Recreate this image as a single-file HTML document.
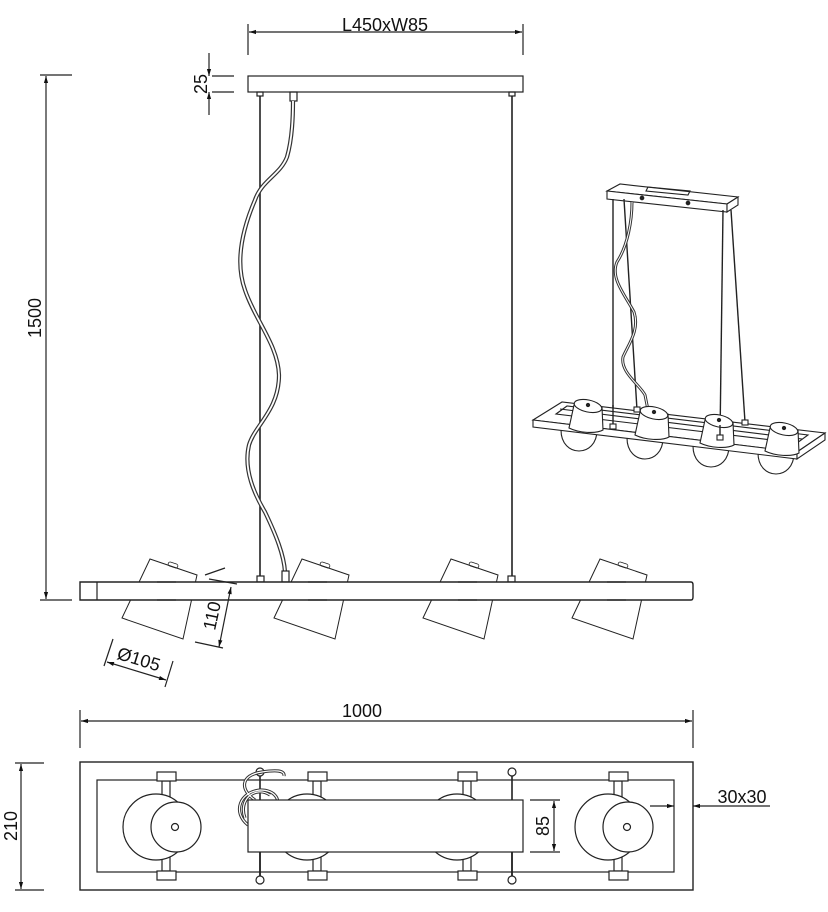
<!DOCTYPE html>
<html><head><meta charset="utf-8"><style>
html,body{margin:0;padding:0;background:#fff}
svg{display:block}
text{font-family:"Liberation Sans",sans-serif;fill:#111}
</style></head><body>
<svg width="828" height="912" viewBox="0 0 828 912" xmlns="http://www.w3.org/2000/svg">
<defs>
<marker id="ar" viewBox="0 0 10 10" refX="10" refY="5" markerWidth="9" markerHeight="7" orient="auto-start-reverse" markerUnits="userSpaceOnUse"><path d="M0,2 L10,5 L0,8 Z" fill="#111"/></marker>
</defs>
<g stroke="#222" stroke-width="1.2" fill="none">
<line x1="248" y1="24" x2="248" y2="55"/><line x1="523" y1="24" x2="523" y2="55"/>
<line x1="249" y1="32" x2="522" y2="32" marker-start="url(#ar)" marker-end="url(#ar)"/>
<rect x="248" y="76" width="275" height="16" fill="#fff"/>
<line x1="212" y1="76" x2="234" y2="76"/><line x1="212" y1="92" x2="234" y2="92"/>
<line x1="209" y1="53" x2="209" y2="76" marker-end="url(#ar)"/>
<line x1="209" y1="115" x2="209" y2="92" marker-end="url(#ar)"/>
<line x1="40" y1="75" x2="72" y2="75"/><line x1="40" y1="600" x2="72" y2="600"/>
<line x1="46" y1="76" x2="46" y2="599" marker-start="url(#ar)" marker-end="url(#ar)"/>
<line x1="260" y1="96" x2="260" y2="576" stroke-width="1.6"/>
<line x1="512" y1="96" x2="512" y2="576" stroke-width="1.6"/>
<rect x="257" y="92" width="6" height="4"/><rect x="509" y="92" width="6" height="4"/>
<rect x="290" y="92" width="7" height="9"/>
<path d="M293,101 C293,120 292,140 287,157 C280,175 262,180 255,200 C240,235 236,265 245,290 C255,320 278,345 279,375 C279,410 255,425 249,445 C243,470 255,495 265,512 C276,535 284,555 285,572" stroke="#333" stroke-width="4.2"/>
<path d="M293,101 C293,120 292,140 287,157 C280,175 262,180 255,200 C240,235 236,265 245,290 C255,320 278,345 279,375 C279,410 255,425 249,445 C243,470 255,495 265,512 C276,535 284,555 285,572" stroke="#fff" stroke-width="1.8"/>
<rect x="257" y="576" width="7" height="6" fill="#fff"/>
<rect x="282" y="571" width="7" height="11" fill="#fff"/>
<rect x="508" y="576" width="7" height="6" fill="#fff"/>
<g id="lamp">
<polygon points="150,559 197,575 183,639 122,618" fill="#fff" stroke-width="1"/>
<rect x="168" y="563" width="10" height="4" rx="2" transform="rotate(18 173 565)" stroke-width="0.8"/>
</g>
<use href="#lamp" transform="translate(152,0)"/>
<use href="#lamp" transform="translate(301,0)"/>
<use href="#lamp" transform="translate(450,0)"/>
<path d="M80,582 H691 Q693,582 693,585 V597 Q693,600 691,600 H80 Z" fill="#fff" stroke-width="1.4"/>
<line x1="97" y1="582" x2="97" y2="600"/>
<g stroke-width="1.6" stroke="#333">
<line x1="157" y1="582" x2="176" y2="582"/><line x1="157" y1="600" x2="176" y2="600"/>
<line x1="308" y1="582" x2="327" y2="582"/><line x1="308" y1="600" x2="327" y2="600"/>
<line x1="458" y1="582" x2="477" y2="582"/><line x1="458" y1="600" x2="477" y2="600"/>
<line x1="607" y1="582" x2="626" y2="582"/><line x1="607" y1="600" x2="626" y2="600"/>
</g>
<line x1="209" y1="579" x2="237" y2="584"/><line x1="195" y1="642" x2="223" y2="648"/>
<line x1="231" y1="587" x2="219" y2="647" marker-start="url(#ar)" marker-end="url(#ar)"/>
<line x1="205" y1="575" x2="225" y2="568"/>
<line x1="113" y1="639" x2="104" y2="666"/><line x1="173" y1="661" x2="165" y2="687"/>
<line x1="107" y1="662" x2="166" y2="680" marker-start="url(#ar)" marker-end="url(#ar)"/>
<line x1="80" y1="710" x2="80" y2="748"/><line x1="693" y1="710" x2="693" y2="748"/>
<line x1="81" y1="721" x2="692" y2="721" marker-start="url(#ar)" marker-end="url(#ar)"/>
<rect x="80" y="762" width="613" height="128" stroke-width="1.4"/>
<rect x="97" y="780" width="577" height="92"/>
<g id="bl">
<rect x="162" y="781" width="8" height="90" fill="#fff"/>
<rect x="157" y="772" width="19" height="9" fill="#fff"/>
<rect x="157" y="871" width="19" height="9" fill="#fff"/>
<circle cx="156" cy="827" r="33" fill="#fff"/>
<circle cx="176" cy="827" r="25" fill="#fff"/>
<circle cx="175" cy="827" r="3.5"/>
</g>
<use href="#bl" transform="translate(151,0)"/>
<use href="#bl" transform="translate(301,0)"/>
<use href="#bl" transform="translate(452,0)"/>
<line x1="260" y1="776" x2="260" y2="876" stroke-width="1.6"/>
<line x1="512" y1="776" x2="512" y2="876" stroke-width="1.6"/>
<circle cx="260" cy="772" r="4" fill="#fff"/><circle cx="260" cy="880" r="4" fill="#fff"/>
<circle cx="512" cy="772" r="4" fill="#fff"/><circle cx="512" cy="880" r="4" fill="#fff"/>
<g stroke="#333" stroke-width="3.2">
<path d="M255,800 C240,790 240,775 262,772 C275,770 285,770 284,776"/>
<path d="M248,825 C232,812 240,792 260,790 C275,790 282,800 275,810"/>
<path d="M245,818 C238,800 255,785 270,795"/>
</g>
<g stroke="#fff" stroke-width="1.2">
<path d="M255,800 C240,790 240,775 262,772 C275,770 285,770 284,776"/>
<path d="M248,825 C232,812 240,792 260,790 C275,790 282,800 275,810"/>
<path d="M245,818 C238,800 255,785 270,795"/>
</g>
<rect x="248" y="800" width="275" height="52" fill="#fff"/>
<line x1="260" y1="852" x2="260" y2="876" stroke-width="1.6"/>
<line x1="512" y1="852" x2="512" y2="876" stroke-width="1.6"/>
<line x1="530" y1="800" x2="560" y2="800"/><line x1="530" y1="852" x2="560" y2="852"/>
<line x1="554" y1="801" x2="554" y2="851" marker-start="url(#ar)" marker-end="url(#ar)"/>
<line x1="650" y1="806" x2="674" y2="806" marker-end="url(#ar)"/>
<line x1="770" y1="806" x2="693" y2="806" marker-end="url(#ar)"/>
<line x1="15" y1="763" x2="44" y2="763"/><line x1="15" y1="890" x2="44" y2="890"/>
<line x1="21" y1="764" x2="21" y2="889" marker-start="url(#ar)" marker-end="url(#ar)"/>
<g stroke-width="1.1">
<polygon points="607,191 620,184 738,197 727,204" fill="#fff"/>
<polygon points="607,191 727,204 727,212 607,199" fill="#fff"/>
<polygon points="727,204 738,197 738,205 727,212" fill="#fff"/>
<polygon points="648,187 690,191 688,195 646,191"/>
<circle cx="642" cy="198" r="1.8" fill="#222"/><circle cx="688" cy="203" r="1.8" fill="#222"/>
<line x1="613" y1="199" x2="613" y2="427" stroke-width="1.4"/>
<line x1="624" y1="199" x2="637" y2="410" stroke-width="1.4"/>
<line x1="723" y1="210" x2="720" y2="437" stroke-width="1.4"/>
<line x1="731" y1="210" x2="745" y2="422" stroke-width="1.4"/>
<path d="M632,202 C632,220 628,245 617,262 C610,278 625,295 634,312 C640,330 628,345 623,357 C620,372 640,385 645,395 L648,410" stroke="#333" stroke-width="3"/>
<path d="M632,202 C632,220 628,245 617,262 C610,278 625,295 634,312 C640,330 628,345 623,357 C620,372 640,385 645,395 L648,410" stroke="#fff" stroke-width="1"/>
<path d="M561,430 C561,458 597,458 597,430 Z" fill="#fff"/>
<path d="M627,438 C627,466 663,466 663,438 Z" fill="#fff"/>
<path d="M693,446 C693,474 729,474 729,446 Z" fill="#fff"/>
<path d="M758,453 C758,481 794,481 794,453 Z" fill="#fff"/>
<polygon points="533,420 562,402 825,433 797,452" fill="#fff"/>
<polygon points="533,420 797,452 797,459 533,427" fill="#fff"/>
<polygon points="797,452 825,433 825,440 797,459" fill="#fff"/>
<polygon points="556,414 567,406 808,435 797,443"/>
<line x1="560" y1="409" x2="802" y2="439"/>
<g fill="#fff">
<path d="M574,405 L569,428 C579,433 596,434 603,430 L602,407 Z"/><ellipse cx="588" cy="406" rx="14" ry="6" transform="rotate(12 588 406)"/>
<path d="M640,412 L635,435 C645,440 662,441 669,437 L668,414 Z"/><ellipse cx="654" cy="413" rx="14" ry="6" transform="rotate(12 654 413)"/>
<path d="M705,420 L700,443 C710,448 727,449 734,445 L733,422 Z"/><ellipse cx="719" cy="421" rx="14" ry="6" transform="rotate(12 719 421)"/>
<path d="M770,428 L765,451 C775,456 792,457 799,453 L798,430 Z"/><ellipse cx="784" cy="429" rx="14" ry="6" transform="rotate(12 784 429)"/>
</g>
<circle cx="588" cy="405" r="1.6" fill="#222"/><circle cx="654" cy="412" r="1.6" fill="#222"/>
<circle cx="719" cy="420" r="1.6" fill="#222"/><circle cx="784" cy="428" r="1.6" fill="#222"/>
<line x1="613" y1="405" x2="613" y2="427" stroke-width="1.4"/>
<line x1="720" y1="425" x2="720" y2="437" stroke-width="1.4"/>
<rect x="610" y="424" width="6" height="5" fill="#fff"/><rect x="634" y="407" width="6" height="5" fill="#fff"/>
<rect x="717" y="435" width="6" height="5" fill="#fff"/><rect x="742" y="420" width="6" height="5" fill="#fff"/>
</g>
</g>
<text x="385" y="31" font-size="18" text-anchor="middle">L450xW85</text>
<text transform="translate(207,84) rotate(-90)" font-size="18" text-anchor="middle">25</text>
<text transform="translate(41,318) rotate(-90)" font-size="18" text-anchor="middle">1500</text>
<text transform="translate(218,617) rotate(-78)" font-size="18" text-anchor="middle">110</text>
<text transform="translate(137,665) rotate(17)" font-size="18" text-anchor="middle">Ø105</text>
<text x="362" y="717" font-size="18" text-anchor="middle">1000</text>
<text transform="translate(549,826) rotate(-90)" font-size="18" text-anchor="middle">85</text>
<text x="742" y="803" font-size="18" text-anchor="middle">30x30</text>
<text transform="translate(17,826) rotate(-90)" font-size="18" text-anchor="middle">210</text>
</svg>
</body></html>
